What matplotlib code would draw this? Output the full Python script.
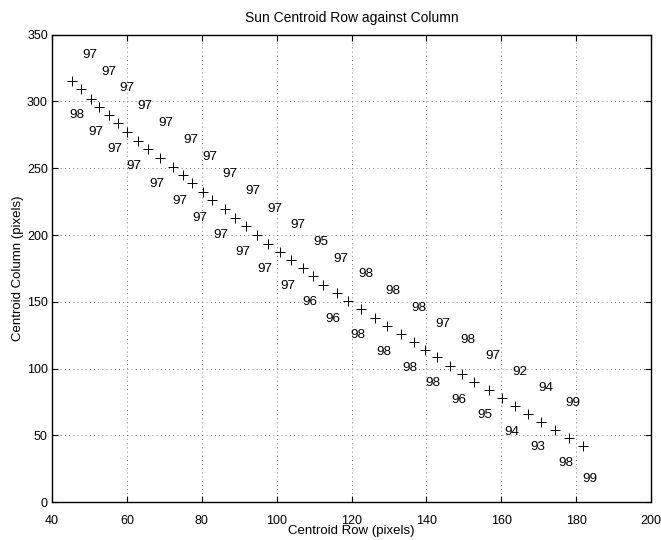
import matplotlib.pyplot as plt

plt.rcParams['font.family'] = ['Liberation Sans', 'DejaVu Sans']

# sun centroid positions (row, column)
row = [45.4, 47.7, 50.3, 52.6, 55.2, 57.7, 60.1, 62.9, 65.7, 68.8,
       72.2, 75.1, 77.4, 80.3, 82.8, 86.1, 88.9, 91.8, 94.7, 97.7,
       100.9, 103.8, 106.9, 109.7, 112.4, 116.0, 119.1, 122.5, 126.2, 129.6,
       133.1, 136.6, 139.6, 142.7, 146.3, 149.6, 152.8, 156.6, 160.1, 163.7,
       167.0, 170.6, 174.3, 178.1, 181.7]
col = [315.3, 309.1, 302.1, 296.1, 290.1, 283.8, 277.1, 270.6, 264.1, 257.6,
       251.1, 244.6, 238.6, 232.2, 225.9, 219.6, 213.0, 206.6, 200.1, 193.6,
       187.6, 181.4, 175.3, 169.1, 162.5, 156.5, 150.9, 144.7, 138.2, 131.6,
       125.9, 119.9, 113.6, 108.4, 101.8, 95.8, 89.8, 84.2, 77.7, 72.2,
       66.0, 60.4, 54.2, 48.4, 42.4]
# number shown next to each point
tags = [97, 98, 97, 97, 97, 97, 97, 97, 97, 97,
        97, 97, 97, 97, 97, 97, 97, 97, 97, 97,
        97, 97, 95, 96, 97, 96, 98, 98, 98, 98,
        98, 98, 97, 98, 98, 96, 97, 95, 92, 94,
        94, 93, 99, 98, 99]

fig = plt.figure(figsize=(6.61, 5.40), dpi=100)
ax = fig.add_axes([0.0787, 0.0698, 0.985 - 0.0787, 0.936 - 0.0698])

ax.plot(row, col, '+', color='black', markersize=7, markeredgewidth=0.7)

for i, (x, y, t) in enumerate(zip(row, col, tags)):
    if i == len(tags) - 1:
        off = (5, -24)
    elif i % 2 == 0:
        off = (13, 19)   # odd points: above right
    else:
        off = (-2.5, -18.5)  # even points: below
    ax.annotate(str(t), (x, y), xytext=off, textcoords='offset points',
                ha='center', va='center', fontsize=9.7)

ax.set_xlim(40, 200)
ax.set_ylim(0, 350)
ax.set_xticks(range(40, 201, 20))
ax.set_yticks(range(0, 351, 50))
ax.grid(True, color='0.35', linestyle=(0, (1, 4)), linewidth=0.6)
ax.tick_params(direction='in', top=True, right=True, labelsize=9, length=4)
ax.tick_params(axis='x', pad=9)
ax.tick_params(axis='y', pad=3)
for s in ax.spines.values():
    s.set_linewidth(1.0)

ax.set_title('Sun Centroid Row against Column', fontsize=10, pad=9)
ax.set_xlabel('Centroid Row (pixels)', fontsize=9.5, labelpad=-1)
ax.set_ylabel('Centroid Column (pixels)', fontsize=9.5, labelpad=2)

fig.savefig('out.png', dpi=100)
